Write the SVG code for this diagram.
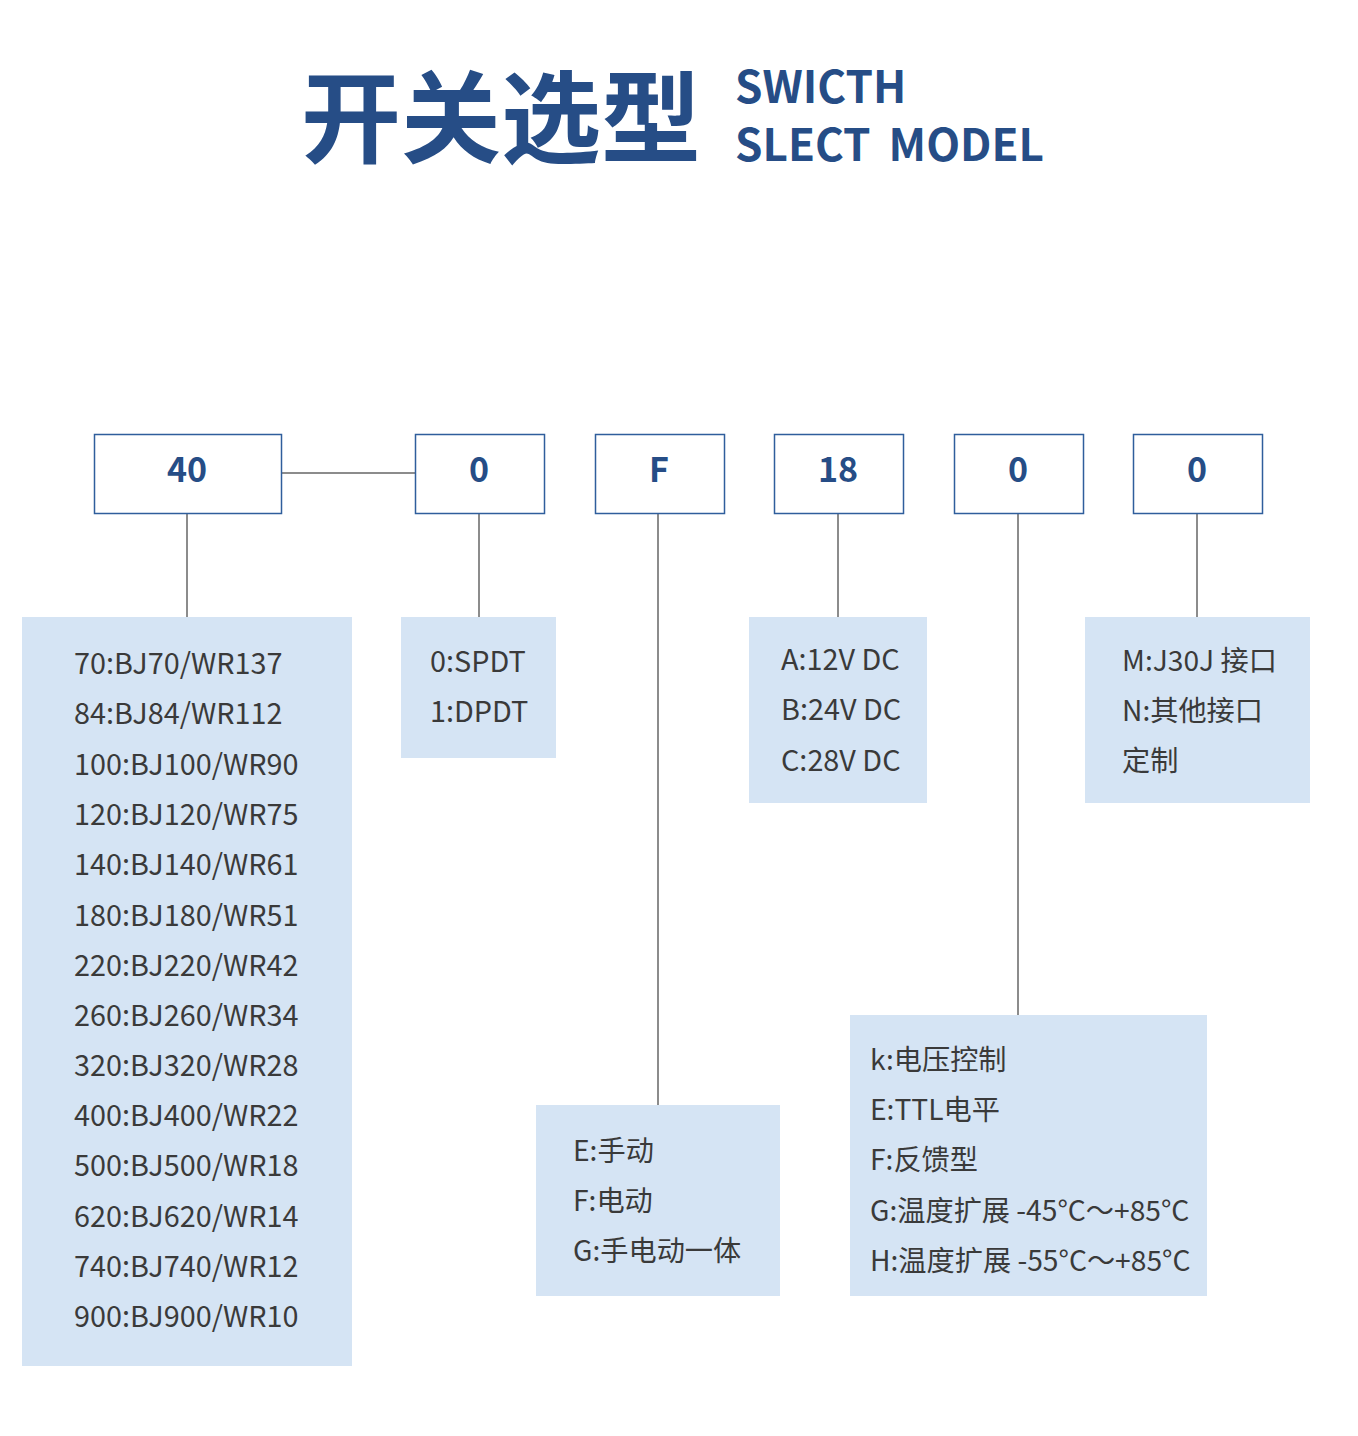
<svg xmlns="http://www.w3.org/2000/svg" width="1358" height="1436" viewBox="0 0 1358 1436">
<style>
.t{font-family:"Noto Sans CJK SC","Noto Sans",sans-serif;fill:#264d86;font-weight:700}
.box{fill:#fff;stroke:#2f5e9c;stroke-width:1.5}
.lbl{font-family:"Noto Sans CJK SC","Noto Sans",sans-serif;fill:#264d86;font-weight:700;font-size:34px;text-anchor:middle}
.pan{fill:#d5e4f4}
.tx{font-family:"Noto Sans CJK SC","Noto Sans",sans-serif;fill:#3a3a3a;font-size:28.8px}
.cj{font-size:28.2px}
.ln{stroke:#666;stroke-width:1.5;fill:none}
</style>
<rect width="1358" height="1436" fill="#fff"/>
<g id="title">
<text class="t" x="301" y="155" font-size="100">开关选型</text>
<text class="t" x="735" y="103" font-size="44">SWICTH</text>
<text class="t" x="735" y="161" font-size="44">SLECT <tspan dx="8">MODEL</tspan></text>
</g>
<g id="connectors">
<line class="ln" x1="282" y1="473" x2="415" y2="473" stroke="#2f5e9c"/>
<line class="ln" x1="187" y1="513" x2="187" y2="617"/>
<line class="ln" x1="479" y1="513" x2="479" y2="617"/>
<line class="ln" x1="658" y1="513" x2="658" y2="1105"/>
<line class="ln" x1="838" y1="513" x2="838" y2="617"/>
<line class="ln" x1="1018" y1="513" x2="1018" y2="1015"/>
<line class="ln" x1="1197" y1="513" x2="1197" y2="617"/>
</g>
<g id="node-40"><rect class="box" x="94.5" y="434.5" width="187" height="79"/><text class="lbl" x="187" y="482">40</text></g>
<g id="node-0a"><rect class="box" x="415.5" y="434.5" width="129" height="79"/><text class="lbl" x="479" y="482">0</text></g>
<g id="node-F"><rect class="box" x="595.5" y="434.5" width="129" height="79"/><text class="lbl" x="659" y="482">F</text></g>
<g id="node-18"><rect class="box" x="774.5" y="434.5" width="129" height="79"/><text class="lbl" x="838" y="482">18</text></g>
<g id="node-0b"><rect class="box" x="954.5" y="434.5" width="129" height="79"/><text class="lbl" x="1018" y="482">0</text></g>
<g id="node-0c"><rect class="box" x="1133.5" y="434.5" width="129" height="79"/><text class="lbl" x="1197" y="482">0</text></g>
<g id="panel-size">
<rect class="pan" x="22" y="617" width="330" height="749"/>
<text class="tx" x="74" y="674">70:BJ70/WR137</text>
<text class="tx" x="74" y="724">84:BJ84/WR112</text>
<text class="tx" x="74" y="775">100:BJ100/WR90</text>
<text class="tx" x="74" y="825">120:BJ120/WR75</text>
<text class="tx" x="74" y="875">140:BJ140/WR61</text>
<text class="tx" x="74" y="926">180:BJ180/WR51</text>
<text class="tx" x="74" y="976">220:BJ220/WR42</text>
<text class="tx" x="74" y="1026">260:BJ260/WR34</text>
<text class="tx" x="74" y="1076">320:BJ320/WR28</text>
<text class="tx" x="74" y="1126">400:BJ400/WR22</text>
<text class="tx" x="74" y="1176">500:BJ500/WR18</text>
<text class="tx" x="74" y="1227">620:BJ620/WR14</text>
<text class="tx" x="74" y="1277">740:BJ740/WR12</text>
<text class="tx" x="74" y="1327">900:BJ900/WR10</text>
</g>
<g id="panel-type">
<rect class="pan" x="401" y="617" width="155" height="141"/>
<text class="tx" x="430" y="672">0:SPDT</text>
<text class="tx" x="430" y="722">1:DPDT</text>
</g>
<g id="panel-drive">
<rect class="pan" x="536" y="1105" width="244" height="191"/>
<text class="tx cj" x="573" y="1161">E:手动</text>
<text class="tx cj" x="573" y="1211">F:电动</text>
<text class="tx cj" x="573" y="1261">G:手电动一体</text>
</g>
<g id="panel-voltage">
<rect class="pan" x="749" y="617" width="178" height="186"/>
<text class="tx" x="781" y="670">A:12V DC</text>
<text class="tx" x="781" y="720">B:24V DC</text>
<text class="tx" x="781" y="771">C:28V DC</text>
</g>
<g id="panel-control">
<rect class="pan" x="850" y="1015" width="357" height="281"/>
<text class="tx cj" x="870" y="1070">k:电压控制</text>
<text class="tx cj" x="870" y="1120">E:TTL电平</text>
<text class="tx cj" x="870" y="1170">F:反馈型</text>
<text class="tx cj" x="870" y="1221">G:温度扩展 -45°C～+85°C</text>
<text class="tx cj" x="870" y="1271">H:温度扩展 -55°C～+85°C</text>
</g>
<g id="panel-interface">
<rect class="pan" x="1085" y="617" width="225" height="186"/>
<text class="tx cj" x="1122" y="671">M:J30J 接口</text>
<text class="tx cj" x="1122" y="721">N:其他接口</text>
<text class="tx cj" x="1122" y="771">定制</text>
</g>
</svg>
